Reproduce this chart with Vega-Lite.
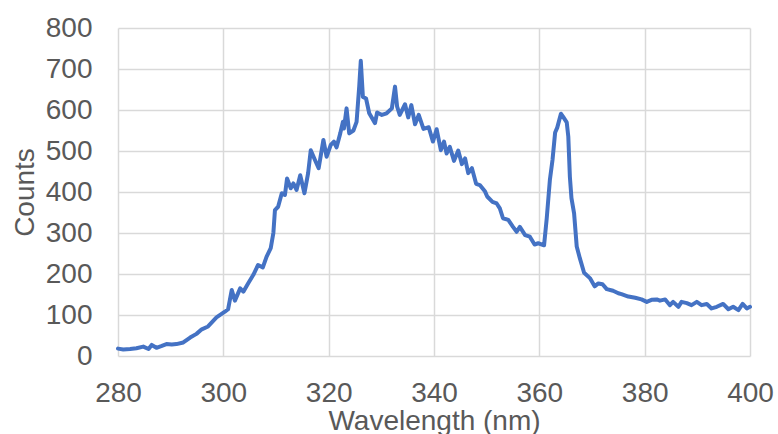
{
  "$schema": "https://vega.github.io/schema/vega-lite/v6.json",
  "autosize": "none",
  "width": 632,
  "height": 328,
  "padding": {"left": 118, "top": 28, "right": 28, "bottom": 78},
  "background": "white",
  "config": {
    "view": {"stroke": null},
    "axis": {
      "labelFont": "Liberation Sans",
      "titleFont": "Liberation Sans",
      "labelFontSize": 28,
      "titleFontSize": 28,
      "labelColor": "#595959",
      "titleColor": "#595959",
      "titleFontWeight": "normal",
      "gridColor": "#d9d9d9",
      "gridWidth": 1.5,
      "domain": false,
      "ticks": false
    }
  },
  "data": {
    "values": [
      {"wavelength": 280.0, "counts": 18},
      {"wavelength": 281.0, "counts": 16},
      {"wavelength": 282.3, "counts": 17},
      {"wavelength": 283.5, "counts": 19},
      {"wavelength": 284.8, "counts": 23},
      {"wavelength": 285.8, "counts": 17},
      {"wavelength": 286.4, "counts": 27},
      {"wavelength": 287.3, "counts": 20},
      {"wavelength": 288.2, "counts": 24},
      {"wavelength": 289.2, "counts": 29},
      {"wavelength": 290.2, "counts": 28},
      {"wavelength": 291.1, "counts": 29},
      {"wavelength": 292.4, "counts": 33},
      {"wavelength": 293.7, "counts": 45},
      {"wavelength": 294.9, "counts": 54},
      {"wavelength": 295.9, "counts": 65},
      {"wavelength": 297.1, "counts": 72},
      {"wavelength": 298.7, "counts": 94},
      {"wavelength": 300.3, "counts": 108},
      {"wavelength": 300.9, "counts": 114},
      {"wavelength": 301.6, "counts": 161},
      {"wavelength": 302.2, "counts": 135},
      {"wavelength": 303.2, "counts": 165},
      {"wavelength": 303.8, "counts": 157},
      {"wavelength": 304.7, "counts": 177},
      {"wavelength": 305.7, "counts": 198},
      {"wavelength": 306.6, "counts": 222},
      {"wavelength": 307.5, "counts": 216},
      {"wavelength": 308.2, "counts": 242},
      {"wavelength": 309.0, "counts": 263},
      {"wavelength": 309.5, "counts": 300},
      {"wavelength": 309.8, "counts": 356},
      {"wavelength": 310.4, "counts": 364},
      {"wavelength": 311.1, "counts": 397},
      {"wavelength": 311.7, "counts": 393},
      {"wavelength": 312.1, "counts": 433},
      {"wavelength": 312.8, "counts": 409},
      {"wavelength": 313.3, "counts": 421},
      {"wavelength": 313.9, "counts": 405},
      {"wavelength": 314.6, "counts": 441},
      {"wavelength": 315.4, "counts": 397},
      {"wavelength": 316.1, "counts": 446},
      {"wavelength": 316.6, "counts": 502},
      {"wavelength": 317.4, "counts": 478},
      {"wavelength": 318.1, "counts": 458},
      {"wavelength": 319.0, "counts": 527},
      {"wavelength": 319.6, "counts": 486},
      {"wavelength": 320.4, "counts": 515},
      {"wavelength": 321.0, "counts": 523},
      {"wavelength": 321.5, "counts": 509},
      {"wavelength": 322.2, "counts": 543},
      {"wavelength": 322.7, "counts": 571},
      {"wavelength": 322.9, "counts": 555},
      {"wavelength": 323.4, "counts": 604},
      {"wavelength": 323.9, "counts": 543},
      {"wavelength": 324.7, "counts": 550},
      {"wavelength": 325.3, "counts": 571},
      {"wavelength": 325.8, "counts": 657},
      {"wavelength": 326.1, "counts": 720},
      {"wavelength": 326.5, "counts": 632},
      {"wavelength": 327.1, "counts": 628},
      {"wavelength": 327.7, "counts": 592},
      {"wavelength": 328.8, "counts": 568},
      {"wavelength": 329.2, "counts": 594},
      {"wavelength": 330.1, "counts": 588},
      {"wavelength": 331.0, "counts": 592},
      {"wavelength": 332.0, "counts": 604},
      {"wavelength": 332.6, "counts": 657},
      {"wavelength": 333.0, "counts": 608},
      {"wavelength": 333.5, "counts": 588},
      {"wavelength": 334.5, "counts": 614},
      {"wavelength": 335.1, "counts": 582},
      {"wavelength": 335.7, "counts": 612},
      {"wavelength": 336.4, "counts": 565},
      {"wavelength": 337.1, "counts": 588},
      {"wavelength": 338.0, "counts": 554},
      {"wavelength": 339.0, "counts": 558},
      {"wavelength": 339.8, "counts": 523},
      {"wavelength": 340.5, "counts": 553},
      {"wavelength": 341.3, "counts": 502},
      {"wavelength": 341.9, "counts": 523},
      {"wavelength": 342.4, "counts": 494},
      {"wavelength": 343.0, "counts": 510},
      {"wavelength": 343.8, "counts": 476},
      {"wavelength": 344.6, "counts": 501},
      {"wavelength": 345.3, "counts": 468},
      {"wavelength": 345.9, "counts": 482},
      {"wavelength": 346.5, "counts": 446},
      {"wavelength": 347.2, "counts": 458},
      {"wavelength": 348.0, "counts": 420},
      {"wavelength": 348.7, "counts": 417},
      {"wavelength": 349.7, "counts": 401},
      {"wavelength": 350.1, "counts": 389},
      {"wavelength": 351.1, "counts": 376},
      {"wavelength": 351.9, "counts": 372},
      {"wavelength": 352.5, "counts": 360},
      {"wavelength": 353.1, "counts": 336},
      {"wavelength": 354.1, "counts": 332},
      {"wavelength": 355.0, "counts": 315},
      {"wavelength": 355.7, "counts": 303},
      {"wavelength": 356.3, "counts": 315},
      {"wavelength": 357.3, "counts": 295},
      {"wavelength": 358.2, "counts": 291},
      {"wavelength": 359.1, "counts": 272},
      {"wavelength": 359.8, "counts": 275},
      {"wavelength": 360.9, "counts": 270},
      {"wavelength": 361.4, "counts": 335},
      {"wavelength": 362.0, "counts": 429},
      {"wavelength": 362.5, "counts": 478},
      {"wavelength": 363.0, "counts": 545},
      {"wavelength": 363.4, "counts": 557},
      {"wavelength": 364.1, "counts": 591},
      {"wavelength": 364.5, "counts": 584},
      {"wavelength": 365.2, "counts": 570},
      {"wavelength": 365.5, "counts": 535},
      {"wavelength": 365.8, "counts": 437},
      {"wavelength": 366.1, "counts": 385},
      {"wavelength": 366.6, "counts": 348},
      {"wavelength": 367.1, "counts": 267},
      {"wavelength": 367.7, "counts": 238},
      {"wavelength": 368.5, "counts": 203},
      {"wavelength": 369.6, "counts": 190},
      {"wavelength": 370.5, "counts": 170},
      {"wavelength": 371.2, "counts": 177},
      {"wavelength": 372.0, "counts": 175},
      {"wavelength": 372.8, "counts": 163},
      {"wavelength": 374.0, "counts": 159},
      {"wavelength": 375.0, "counts": 153},
      {"wavelength": 375.6, "counts": 151},
      {"wavelength": 376.9, "counts": 145},
      {"wavelength": 378.2, "counts": 142},
      {"wavelength": 379.4, "counts": 138},
      {"wavelength": 380.4, "counts": 132},
      {"wavelength": 381.3, "counts": 137},
      {"wavelength": 382.3, "counts": 138},
      {"wavelength": 382.9, "counts": 135},
      {"wavelength": 383.9, "counts": 138},
      {"wavelength": 384.8, "counts": 124},
      {"wavelength": 385.4, "counts": 132},
      {"wavelength": 386.4, "counts": 120},
      {"wavelength": 387.0, "counts": 132},
      {"wavelength": 388.0, "counts": 129},
      {"wavelength": 388.9, "counts": 124},
      {"wavelength": 389.9, "counts": 132},
      {"wavelength": 390.8, "counts": 124},
      {"wavelength": 391.8, "counts": 127},
      {"wavelength": 392.7, "counts": 116},
      {"wavelength": 393.7, "counts": 120},
      {"wavelength": 394.9, "counts": 127},
      {"wavelength": 395.9, "counts": 114},
      {"wavelength": 396.8, "counts": 120},
      {"wavelength": 397.8, "counts": 112},
      {"wavelength": 398.6, "counts": 127},
      {"wavelength": 399.4, "counts": 116},
      {"wavelength": 400.0, "counts": 120}
    ]
  },
  "mark": {"type": "line", "color": "#4472c4", "strokeWidth": 4, "strokeJoin": "round", "strokeCap": "round"},
  "encoding": {
    "x": {
      "field": "wavelength",
      "type": "quantitative",
      "scale": {"domain": [280, 400], "nice": false, "zero": false},
      "axis": {
        "title": "Wavelength (nm)",
        "values": [280, 300, 320, 340, 360, 380, 400],
        "labelPadding": 23,
        "labelFlush": false,
        "labelOverlap": false,
        "titlePadding": 0
      }
    },
    "y": {
      "field": "counts",
      "type": "quantitative",
      "scale": {"domain": [0, 800], "nice": false},
      "axis": {
        "title": "Counts",
        "values": [0, 100, 200, 300, 400, 500, 600, 700, 800],
        "labelPadding": 26,
        "labelOverlap": false,
        "titlePadding": 6
      }
    }
  }
}
